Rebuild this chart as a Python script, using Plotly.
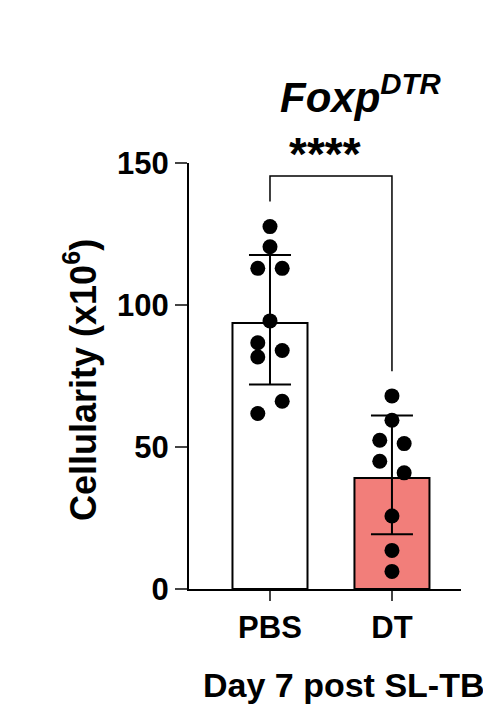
import plotly.graph_objects as go

categories = ["PBS", "DT"]
pbs_vals = [127.6, 120.5, 112.9, 112.9, 94.4, 86.7, 84.0, 81.7, 66.1, 61.8]
pbs_offsets = [0, 0, -0.1, 0.1, 0, -0.1, 0.1, -0.1, 0.1, -0.1]
dt_vals = [68.0, 59.4, 52.4, 51.2, 45.0, 40.9, 25.7, 13.6, 6.2]
dt_offsets = [0, 0, -0.1, 0.1, -0.1, 0.1, 0, 0, 0]
means = [93.7, 39.1]
sds_up = [23.9, 22.0]
sds_dn = [21.7, 19.8]
bar_colors = ["white", "#F27E7A"]
bracket_y = [136.4, 145.4, 145.4, 76.7]

fig = go.Figure()
fig.add_bar(x=[0, 1], y=means, width=0.615, marker=dict(color=bar_colors, line=dict(color="black", width=2)),
            error_y=dict(type="data", array=sds_up, arrayminus=sds_dn, color="black", thickness=2, width=21),
            cliponaxis=False)
fig.add_scatter(x=[o for o in pbs_offsets], y=pbs_vals, mode="markers",
                marker=dict(color="black", size=15), cliponaxis=False)
fig.add_scatter(x=[1 + o for o in dt_offsets], y=dt_vals, mode="markers",
                marker=dict(color="black", size=15), cliponaxis=False)
fig.add_scatter(x=[0, 0, 1, 1], y=bracket_y, mode="lines", line=dict(color="black", width=1.5), cliponaxis=False)

fnt = dict(family="Liberation Sans, Arial", color="black")
tf = dict(size=31, weight="bold", **fnt)
fig.update_layout(
    width=491, height=727, showlegend=False, plot_bgcolor="white", paper_bgcolor="white",
    margin=dict(l=181, r=38, t=155, b=146),
    xaxis=dict(range=[-0.664, 1.566], tickvals=[0, 1], ticktext=categories, showline=True, linecolor="black",
               linewidth=2, ticks="outside", ticklen=10, tickwidth=2, showgrid=False, zeroline=False,
               tickfont=tf),
    yaxis=dict(range=[0, 150], tickvals=[0, 50, 100, 150], showline=True, linecolor="black", linewidth=2,
               ticks="outside", ticklen=12, tickwidth=2, showgrid=False, zeroline=False,
               tickfont=tf),
    font=fnt,
)
fig.add_annotation(text="<b><i>Foxp<sup>DTR</sup></i></b>", x=0.632, y=1.23, xref="paper", yref="paper",
                   showarrow=False, font=dict(size=42, **fnt))
fig.add_annotation(text="<b>****</b>", x=0.5, y=1.02, xref="paper", yref="paper", yanchor="middle",
                   showarrow=False, font=dict(size=46, **fnt))
fig.add_annotation(text="<b>Cellularity (x10<sup>6</sup>)</b>", x=-0.49, y=0.49, xref="paper", yref="paper",
                   textangle=-90, showarrow=False, font=dict(size=36, **fnt))
fig.add_annotation(text="<b>Day 7 post SL-TBI</b>", x=0.044, y=-0.275, xref="paper", yref="paper",
                   xanchor="left", showarrow=False, font=dict(size=34, **fnt))
fig.write_html("out.html")
